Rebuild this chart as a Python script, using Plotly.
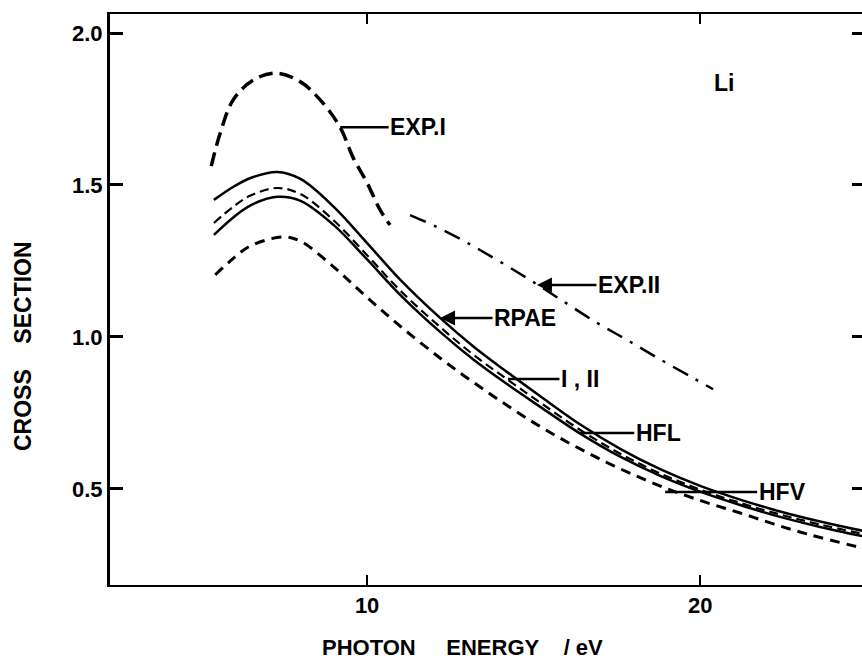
import plotly.graph_objects as go

# ---- data ----
x_theory = [5.4, 6.0, 6.5, 7.3, 8.0, 9.0, 10.0, 11.0, 12.2, 13.2, 14.2, 15.2, 16.4, 17.6, 18.8, 20.0, 21.2, 22.4, 23.6, 24.9]
rpae = [1.451, 1.495, 1.523, 1.543, 1.520, 1.428, 1.309, 1.188, 1.062, 0.968, 0.885, 0.805, 0.712, 0.632, 0.565, 0.510, 0.465, 0.426, 0.393, 0.362]
i_ii = [1.375, 1.430, 1.465, 1.490, 1.470, 1.383, 1.269, 1.152, 1.032, 0.941, 0.861, 0.784, 0.694, 0.616, 0.551, 0.498, 0.454, 0.416, 0.383, 0.352]
hfl = [1.336, 1.395, 1.433, 1.461, 1.448, 1.368, 1.255, 1.138, 1.016, 0.925, 0.845, 0.770, 0.682, 0.606, 0.543, 0.491, 0.447, 0.408, 0.375, 0.344]
x_hfv = [5.44, 6.0, 6.5, 7.48, 8.0, 9.0, 10.0, 11.0, 12.2, 13.2, 14.2, 15.2, 16.2, 17.2, 18.2, 19.2, 20.2, 21.2, 22.2, 23.2, 24.9]
hfv = [1.204, 1.260, 1.300, 1.329, 1.315, 1.230, 1.130, 1.035, 0.930, 0.850, 0.775, 0.705, 0.643, 0.587, 0.537, 0.493, 0.455, 0.421, 0.385, 0.352, 0.305]
x_exp1 = [5.32, 5.59, 5.98, 6.58, 7.27, 7.99, 8.59, 9.19, 9.58, 10.0, 10.39, 10.69]
exp1 = [1.562, 1.671, 1.780, 1.845, 1.868, 1.840, 1.780, 1.690, 1.590, 1.507, 1.418, 1.368]
x_exp2 = [11.29, 12.28, 13.39, 14.65, 15.74, 16.91, 17.81, 18.74, 19.79, 20.39]
exp2 = [1.401, 1.352, 1.286, 1.204, 1.128, 1.046, 0.990, 0.930, 0.865, 0.828]

x_ticks = [10, 20]
y_ticks = [0.5, 1.0, 1.5, 2.0]
y_tick_text = ["0.5", "1.0", "1.5", "2.0"]

FONT = "Liberation Sans, Arial, sans-serif"
K = "black"
NB = "\u00a0"

fig = go.Figure()
fig.add_trace(go.Scatter(x=x_exp1, y=exp1, mode="lines", line=dict(color=K, width=3.5, dash="14px,7px", shape="spline")))
fig.add_trace(go.Scatter(x=x_theory, y=rpae, mode="lines", line=dict(color=K, width=2.5, shape="spline")))
fig.add_trace(go.Scatter(x=x_theory, y=i_ii, mode="lines", line=dict(color=K, width=2.2, dash="9px,5px", shape="spline")))
fig.add_trace(go.Scatter(x=x_theory, y=hfl, mode="lines", line=dict(color=K, width=2.5, shape="spline")))
fig.add_trace(go.Scatter(x=x_hfv, y=hfv, mode="lines", line=dict(color=K, width=3, dash="10px,7px", shape="spline")))
fig.add_trace(go.Scatter(x=x_exp2, y=exp2, mode="lines", yaxis="y2",
                         line=dict(color=K, width=2.5, dash="17px,9px,3px,9px", shape="spline")))

labels = [
    # text, x, y, ax(px), arrowhead
    ("EXP.I", 9.19, 1.69, 78, 0),
    ("EXP.II", 15.1, 1.171, 92, 2),
    ("RPAE", 12.19, 1.062, 85, 2),
    ("I , II", 14.23, 0.862, 72, 0),
    ("HFL", 16.4, 0.684, 78, 0),
    ("HFV", 18.95, 0.49, 117, 0),
]
for txt, x, y, ax, head in labels:
    fig.add_annotation(x=x, y=y, text=txt, showarrow=True, ax=ax, ay=0, axref="pixel", ayref="pixel",
                       arrowhead=head, arrowsize=1.2, arrowwidth=2.5, arrowcolor=K,
                       xanchor="center", yanchor="middle",
                       font=dict(family=FONT, size=23, color=K, weight="bold"))

fig.add_annotation(x=20.72, y=1.836, text="Li", showarrow=False, xanchor="center", yanchor="middle",
                   font=dict(family=FONT, size=23, color=K, weight="bold"))
fig.add_annotation(xref="paper", yref="paper", x=(462 - 110) / 752, y=-(647 - 585) / 571,
                   xanchor="center", yanchor="middle",
                   text="PHOTON" + NB * 5 + "ENERGY" + NB * 4 + "/ eV", showarrow=False,
                   font=dict(family=FONT, size=22, color=K, weight="bold"))
fig.add_annotation(xref="paper", yref="paper", x=-(110 - 23) / 752, y=(585 - 346) / 571,
                   xanchor="center", yanchor="middle",
                   text="CROSS" + NB * 4 + "SECTION", showarrow=False, textangle=-90,
                   font=dict(family=FONT, size=23, color=K, weight="bold"))

tickfont = dict(family=FONT, size=22, color=K, weight="bold")
fig.update_layout(
    width=862, height=662,
    margin=dict(l=110, r=0, t=14, b=77),
    paper_bgcolor="white", plot_bgcolor="white",
    showlegend=False,
    font=dict(family=FONT, size=22, color=K),
    xaxis=dict(range=[2.28, 24.86], tickvals=x_ticks, ticks="inside", ticklen=10, tickwidth=2,
               tickcolor=K, showline=True, linewidth=2, linecolor=K, mirror="ticks",
               showgrid=False, zeroline=False, tickfont=tickfont),
    yaxis=dict(range=[0.184, 2.0625], tickvals=y_ticks, ticktext=y_tick_text, ticks="inside",
               ticklen=13, tickwidth=2.5, tickcolor=K, showline=True, linewidth=3, linecolor=K,
               mirror=False, showgrid=False, zeroline=False, tickfont=tickfont),
    yaxis2=dict(range=[0.184, 2.0625], overlaying="y", side="right", tickvals=y_ticks, ticks="inside",
                ticklen=10, tickwidth=2.5, tickcolor=K, showline=False, showticklabels=False,
                showgrid=False, zeroline=False),
)

fig.write_html("out.html")
